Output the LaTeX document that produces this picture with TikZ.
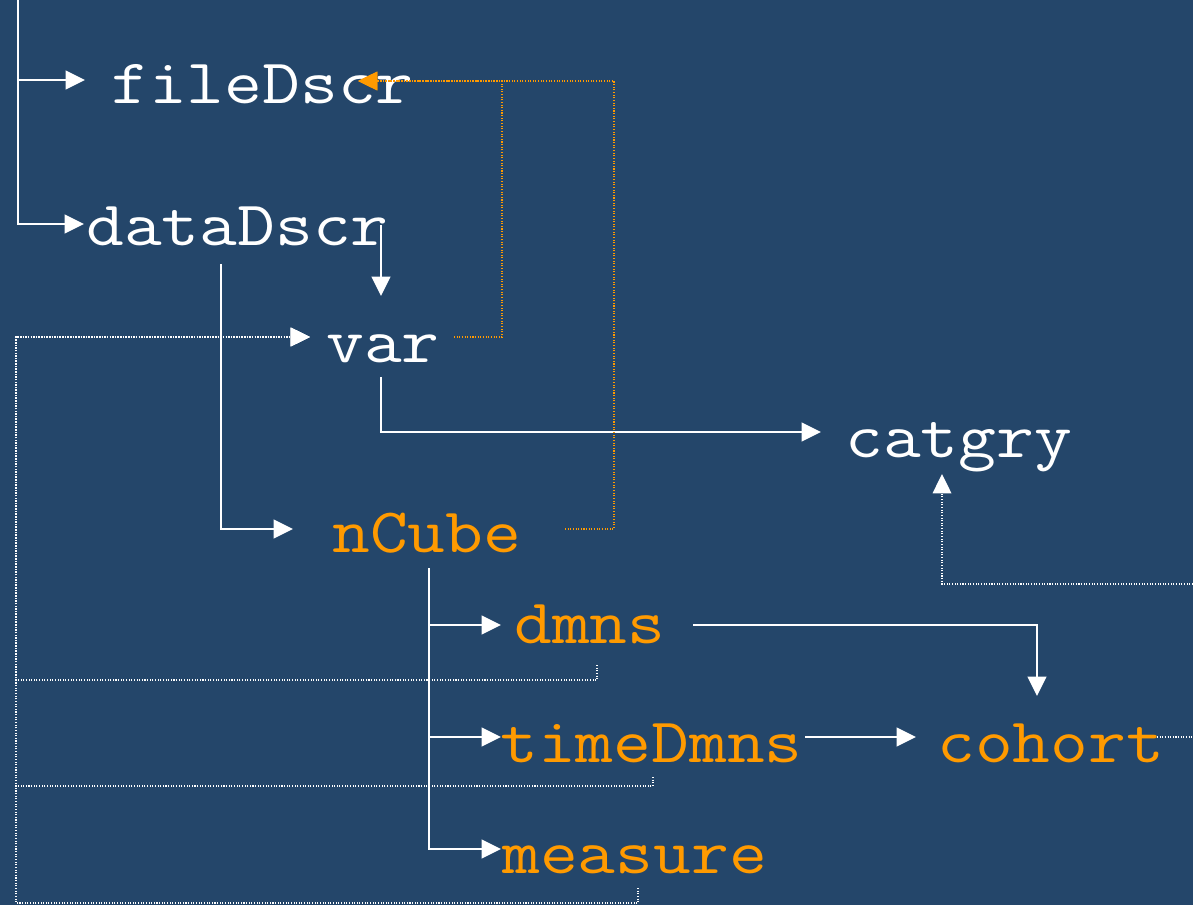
\documentclass[tikz,border=0pt]{standalone}
\usepackage{fontspec}
\usetikzlibrary{arrows.meta,calc}
\definecolor{bgblue}{HTML}{24466A}
\definecolor{hiorange}{HTML}{FF9A00}
\newcommand{\wide}[1]{\scalebox{1.16}[1]{#1}}
\tikzset{
  lbl/.style={anchor=base west, inner sep=0pt, text=white, font=\ttfamily\fontsize{36}{40}\selectfont},
  hot/.style={lbl, text=hiorange},
  link/.style={draw=white, line width=1.1pt, -{Triangle[length=11pt,width=10.6pt]}},
  back/.style={draw=white, line width=0.8pt, dash pattern=on 0.6pt off 0.9pt, -{Triangle[length=11pt,width=10.6pt]}},
  oback/.style={back, draw=hiorange, -{Triangle[length=11pt,width=10.6pt,fill=hiorange]}}
}
\begin{document}
\begin{tikzpicture}[x=0.02cm,y=-0.02cm]
\useasboundingbox (0,0) rectangle (1193,905);
\fill[bgblue] (0,0) rectangle (1193,905);
\clip (0,0) rectangle (1193,905);

\node[lbl] (file) at (111,104) {\wide{fileDscr}};
\node[lbl] (data) at (86,246) {\wide{dataDscr}};
\node[lbl] (var) at (326,362) {\wide{var}};
\node[lbl] (catgry) at (845,457) {\wide{catgry}};
\node[hot] (ncube) at (332,552) {\wide{nCube}};
\node[hot] (dmns) at (514,643) {\wide{dmns}};
\node[hot] (time) at (500,762) {\wide{timeDmns}};
\node[hot] (cohort) at (937,762) {\wide{cohort}};
\node[hot] (measure) at (502,873) {\wide{measure}};
\coordinate (top) at (18,-5);
\coordinate (left) at (16,337);

\path[link] (top) |- ($(file.base west)+(-26,-24)$);
\path[link] (top) |- ($(data.base west)+(-2,-22)$);
\path[link] ($(data.base west)+(295,-21)$) -- ($(var.base west)+(55,-66)$);
\path[link] ($(data.base west)+(135,18)$) |- ($(ncube.base west)+(-39,-23)$);
\path[link] ($(var.base west)+(55,15)$) |- ($(catgry.base west)+(-24,-25)$);
\path[link] ($(ncube.base west)+(97,16)$) |- ($(dmns.base west)+(-13,-18)$);
\path[link] ($(ncube.base west)+(97,16)$) |- ($(time.base west)+(1,-25)$);
\path[link] ($(ncube.base west)+(97,16)$) |- ($(measure.base west)+(-1,-24)$);
\path[link] ($(dmns.base west)+(179,-18)$) -| ($(cohort.base west)+(100,-66)$);
\path[link] ($(time.base west)+(305,-25)$) -- ($(cohort.base west)+(-21,-25)$);

\path[oback] ($(var.base west)+(128,-25)$) -- ++(48,0) |- ($(file.base west)+(247,-23)$);
\path[oback] ($(ncube.base west)+(233,-23)$) -- ++(49,0) |- ($(file.base west)+(247,-23)$);
\path[back] ($(cohort.base west)+(220,-25)$) -- ++(60,0) -- ++(0,-153) -| ($(catgry.base west)+(97,17)$);
\path[back] ($(dmns.base west)+(83,22)$) -- ++(0,15) -| (left) -- ($(var.base west)+(-16,-25)$);
\path[back] ($(time.base west)+(153,15)$) -- ++(0,9) -| (left) -- ($(var.base west)+(-16,-25)$);
\path[back] ($(measure.base west)+(136,15)$) -- ++(0,15) -| (left) -- ($(var.base west)+(-16,-25)$);
\end{tikzpicture}
\end{document}
